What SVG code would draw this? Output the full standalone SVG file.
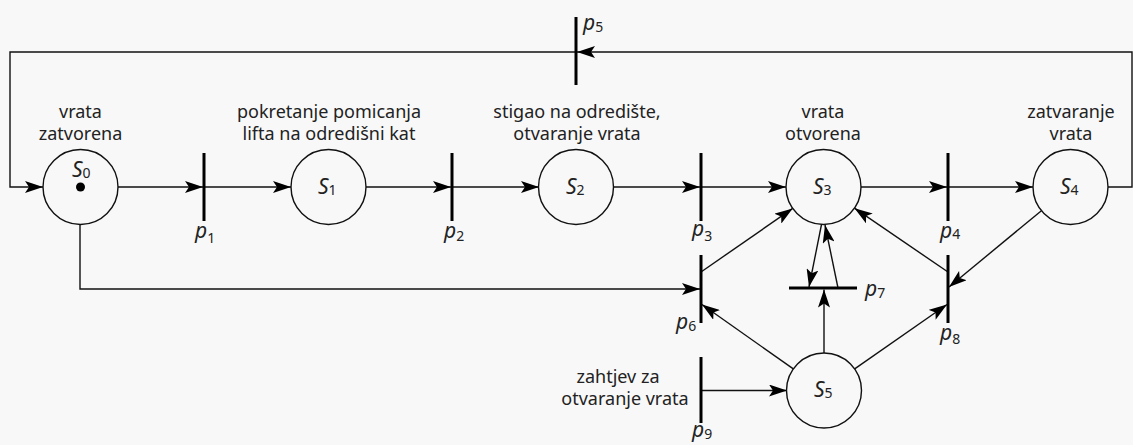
<svg xmlns="http://www.w3.org/2000/svg" width="1133" height="445" viewBox="0 0 1133 445">
<style>
.bg{fill:#f8f8f8}
.place{fill:#f8f8f8;stroke:#111;stroke-width:1.4}
.tr{stroke:#000;stroke-width:3;fill:none}
.arc{stroke:#111;stroke-width:1.4;fill:none}
.arr{marker-end:url(#ah)}
.t{font-family:"Noto Sans","Open Sans",sans-serif;font-size:18px;fill:#222;text-anchor:middle}
.lab{font-family:"Noto Sans","Open Sans",sans-serif;font-size:21px;font-style:italic;fill:#222}
.sub{font-size:14px;font-style:normal}
</style>
<defs>
<marker id="ah" viewBox="0 0 18 12" refX="18" refY="6" markerWidth="18" markerHeight="12" markerUnits="userSpaceOnUse" orient="auto">
<path d="M0,0 L18,6 L0,12 L4,6 z" fill="#000"/>
</marker>
</defs>
<rect class="bg" x="0" y="0" width="1133" height="445"/>

<g id="connectors">
<path class="arc arr" d="M1108,187 H1132 V52 H577"/>
<path class="arc arr" d="M576,52 H10 V187 H43"/>
<path class="arc arr" d="M118,187 H203"/>
<path class="arc arr" d="M204,187 H291"/>
<path class="arc arr" d="M366,187 H451"/>
<path class="arc arr" d="M452,187 H539"/>
<path class="arc arr" d="M613,187 H700"/>
<path class="arc arr" d="M701,187 H786"/>
<path class="arc arr" d="M861,187 H947"/>
<path class="arc arr" d="M948,187 H1033"/>
<path class="arc arr" d="M80,224 V289 H700"/>
<path class="arc arr" d="M701,272 L792.7,208.4"/>
<path class="arc arr" d="M948,272 L854.5,208.2"/>
<path class="arc arr" d="M793.3,368.9 L702,304.5"/>
<path class="arc arr" d="M854.7,368.9 L947,304.5"/>
<path class="arc arr" d="M824,353 V289.5"/>
<path class="arc arr" d="M821.5,224.5 L809,287"/>
<path class="arc arr" d="M838,288 L825,225"/>
<path class="arc arr" d="M1041.4,210.7 L949,287"/>
<path class="arc arr" d="M701,390.5 H787"/>
</g>

<g id="S0">
<circle class="place" cx="80.5" cy="187" r="37.5"/>
<circle cx="80.5" cy="187" r="4.5" fill="#000"/>
<text class="lab" x="72" y="177">S<tspan class="sub" dy="1">0</tspan></text>
<text class="t" x="80.5" y="118">vrata</text>
<text class="t" x="80.5" y="140">zatvorena</text>
</g>
<g id="S1">
<circle class="place" cx="328.5" cy="187" r="37.5"/>
<text class="lab" x="318" y="194">S<tspan class="sub" dy="1">1</tspan></text>
<text class="t" x="329" y="118">pokretanje pomicanja</text>
<text class="t" x="329" y="140">lifta na odredišni kat</text>
</g>
<g id="S2">
<circle class="place" cx="576" cy="187" r="37.5"/>
<text class="lab" x="566" y="194">S<tspan class="sub" dy="1">2</tspan></text>
<text class="t" x="577" y="118">stigao na odredište,</text>
<text class="t" x="577" y="140">otvaranje vrata</text>
</g>
<g id="S3">
<circle class="place" cx="823.5" cy="187" r="37.5"/>
<text class="lab" x="813" y="194">S<tspan class="sub" dy="1">3</tspan></text>
<text class="t" x="823" y="118">vrata</text>
<text class="t" x="823" y="140">otvorena</text>
</g>
<g id="S4">
<circle class="place" cx="1070.5" cy="187" r="37.5"/>
<text class="lab" x="1060" y="194">S<tspan class="sub" dy="1">4</tspan></text>
<text class="t" x="1071" y="118">zatvaranje</text>
<text class="t" x="1071" y="140">vrata</text>
</g>
<g id="S5">
<circle class="place" cx="824" cy="390.5" r="37.5"/>
<text class="lab" x="814" y="397">S<tspan class="sub" dy="1">5</tspan></text>
</g>

<g id="p1">
<line class="tr" x1="204" y1="153" x2="204" y2="221"/>
<text class="lab" x="195" y="238">p<tspan class="sub" dy="5">1</tspan></text>
</g>
<g id="p2">
<line class="tr" x1="452" y1="153" x2="452" y2="221"/>
<text class="lab" x="444" y="238">p<tspan class="sub" dy="3">2</tspan></text>
</g>
<g id="p3">
<line class="tr" x1="701" y1="153" x2="701" y2="221"/>
<text class="lab" x="692" y="236">p<tspan class="sub" dy="5">3</tspan></text>
</g>
<g id="p4">
<line class="tr" x1="948" y1="153" x2="948" y2="221"/>
<text class="lab" x="940" y="238">p<tspan class="sub" dy="1">4</tspan></text>
</g>
<g id="p5">
<line class="tr" x1="576" y1="17" x2="576" y2="85"/>
<text class="lab" x="583" y="30">p<tspan class="sub" dy="2">5</tspan></text>
</g>
<g id="p6">
<line class="tr" x1="701" y1="255" x2="701" y2="323"/>
<text class="lab" x="676" y="329">p<tspan class="sub" dy="2">6</tspan></text>
</g>
<g id="p7">
<line class="tr" x1="789" y1="288" x2="857" y2="288"/>
<text class="lab" x="865" y="296">p<tspan class="sub" dy="2">7</tspan></text>
</g>
<g id="p8">
<line class="tr" x1="948" y1="255" x2="948" y2="323"/>
<text class="lab" x="940" y="340">p<tspan class="sub" dy="4">8</tspan></text>
</g>
<g id="p9">
<line class="tr" x1="701" y1="357" x2="701" y2="423"/>
<text class="lab" x="692" y="437">p<tspan class="sub" dy="2">9</tspan></text>
<text class="t" x="618" y="383">zahtjev za</text>
<text class="t" x="625" y="405">otvaranje vrata</text>
</g>
</svg>
